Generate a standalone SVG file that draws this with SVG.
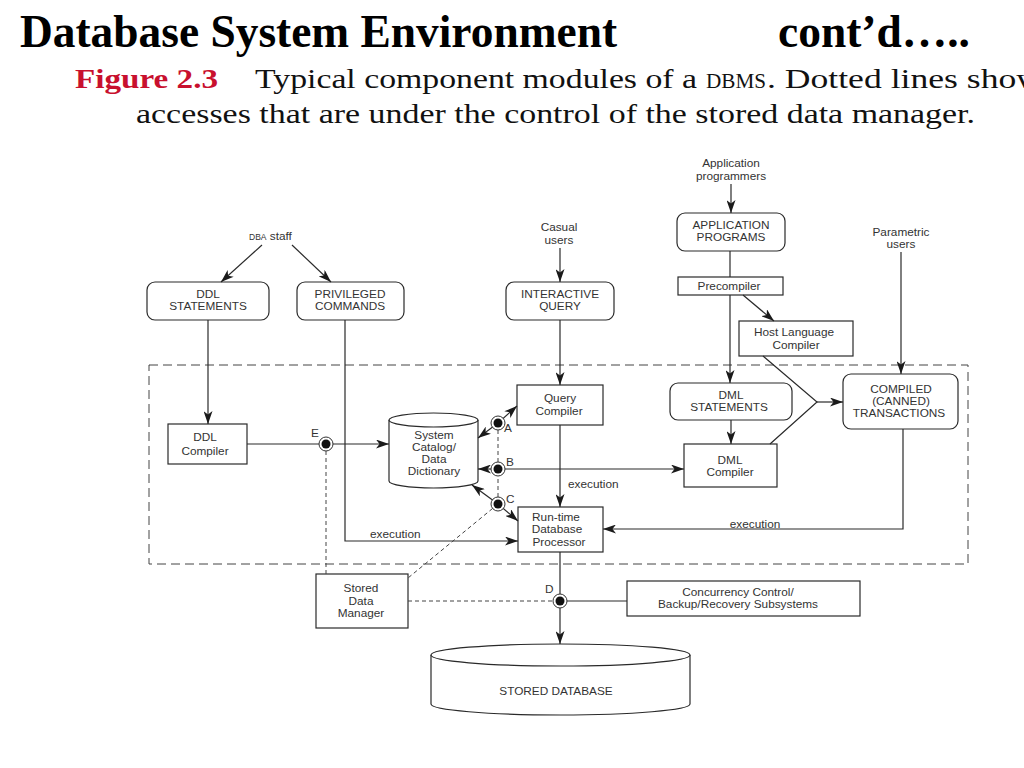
<svg xmlns="http://www.w3.org/2000/svg" width="1024" height="768" viewBox="0 0 1024 768">
<defs>
<marker id="ah" viewBox="0 0 13 9" refX="13" refY="4.5" markerWidth="13" markerHeight="9" markerUnits="userSpaceOnUse" orient="auto-start-reverse">
<path d="M0,0 L13,4.5 L0,9 L3.5,4.5 z" fill="#1a1a1a"/>
</marker>
<style>
.t{font-family:"Liberation Sans",Arial,sans-serif;font-size:11.8px;fill:#333;text-anchor:middle}
.tl{font-family:"Liberation Sans",Arial,sans-serif;font-size:11.8px;fill:#333}
.b{fill:#fff;stroke:#2a2a2a;stroke-width:1.2}
.ln{fill:none;stroke:#2a2a2a;stroke-width:1.2}
.dl{fill:none;stroke:#444;stroke-width:1;stroke-dasharray:4,3}
.arr{marker-end:url(#ah)}
.hd{font-family:"Liberation Serif","Times New Roman",serif;font-weight:bold;fill:#000}
.cap{font-family:"Liberation Serif","Times New Roman",serif;fill:#111}
</style>
</defs>
<rect width="1024" height="768" fill="#fff"/>

<!-- Heading -->
<text class="hd" x="20" y="47" font-size="46" textLength="597" lengthAdjust="spacingAndGlyphs">Database System Environment</text>
<text class="hd" x="778" y="47" font-size="46" textLength="192" lengthAdjust="spacingAndGlyphs">cont’d…..</text>
<text class="hd" x="75" y="88" font-size="28" style="fill:#c8102e" textLength="143" lengthAdjust="spacingAndGlyphs">Figure 2.3</text>
<text class="cap" x="255" y="88" font-size="28" textLength="442" lengthAdjust="spacingAndGlyphs">Typical component modules of a</text>
<text class="cap" x="706" y="88" font-size="21" textLength="60" lengthAdjust="spacingAndGlyphs">DBMS</text>
<text class="cap" x="767" y="88" font-size="28" textLength="275" lengthAdjust="spacingAndGlyphs">. Dotted lines show</text>
<text class="cap" x="136" y="123" font-size="28" textLength="839" lengthAdjust="spacingAndGlyphs">accesses that are under the control of the stored data manager.</text>

<!-- Dashed boundary -->
<rect x="149" y="365" width="819" height="199" class="dl" style="stroke-dasharray:9,5"/>

<!-- Free labels -->
<g id="dba-staff"><text class="tl" x="249" y="240"><tspan font-size="8.5">DBA</tspan><tspan> staff</tspan></text></g>
<g id="casual-users"><text class="t" x="559" y="231">Casual</text><text class="t" x="559" y="244">users</text></g>
<g id="app-programmers"><text class="t" x="731" y="167">Application</text><text class="t" x="731" y="180">programmers</text></g>
<g id="parametric-users"><text class="t" x="901" y="236">Parametric</text><text class="t" x="901" y="248">users</text></g>

<!-- Nodes -->
<g id="ddl-statements"><rect class="b" x="147" y="282" width="122" height="38" rx="8"/><text class="t" x="208" y="298">DDL</text><text class="t" x="208" y="310">STATEMENTS</text></g>
<g id="privileged-commands"><rect class="b" x="297" y="282" width="107" height="38" rx="8"/><text class="t" x="350" y="298">PRIVILEGED</text><text class="t" x="350" y="310">COMMANDS</text></g>
<g id="interactive-query"><rect class="b" x="506" y="282" width="108" height="38" rx="8"/><text class="t" x="560" y="298">INTERACTIVE</text><text class="t" x="560" y="310">QUERY</text></g>
<g id="application-programs"><rect class="b" x="677" y="213" width="108" height="38" rx="8"/><text class="t" x="731" y="229">APPLICATION</text><text class="t" x="731" y="241">PROGRAMS</text></g>
<g id="precompiler"><rect class="b" x="678" y="277" width="105" height="18"/><text class="t" x="729" y="290">Precompiler</text></g>
<g id="host-language-compiler"><rect class="b" x="739" y="321" width="114" height="35"/><text class="t" x="794" y="336">Host Language</text><text class="t" x="796" y="349">Compiler</text></g>
<g id="ddl-compiler"><rect class="b" x="168" y="424" width="79" height="40"/><text class="t" x="205" y="441">DDL</text><text class="t" x="205" y="455">Compiler</text></g>
<g id="system-catalog">
<path class="b" d="M389,420 L389,481 A44.5,7 0 0 0 478,481 L478,420"/>
<ellipse class="b" cx="433.5" cy="420" rx="44.5" ry="7"/>
<text class="t" x="434" y="439">System</text><text class="t" x="434" y="451">Catalog/</text><text class="t" x="434" y="463">Data</text><text class="t" x="434" y="475">Dictionary</text></g>
<g id="query-compiler"><rect class="b" x="517" y="385" width="86" height="40"/><text class="t" x="560" y="402">Query</text><text class="t" x="559" y="415">Compiler</text></g>
<g id="dml-statements"><rect class="b" x="670" y="383" width="122" height="37" rx="8"/><text class="t" x="731" y="399">DML</text><text class="t" x="729" y="411">STATEMENTS</text></g>
<g id="compiled-transactions"><rect class="b" x="843" y="374" width="115" height="55" rx="8"/><text class="t" x="901" y="393">COMPILED</text><text class="t" x="901" y="405">(CANNED)</text><text class="t" x="899" y="417">TRANSACTIONS</text></g>
<g id="dml-compiler"><rect class="b" x="684" y="444" width="93" height="43"/><text class="t" x="730" y="464">DML</text><text class="t" x="730" y="476">Compiler</text></g>
<g id="runtime-processor"><rect class="b" x="518" y="507" width="85" height="45"/><text class="t" x="556" y="521">Run-time</text><text class="t" x="557" y="533">Database</text><text class="t" x="559" y="546">Processor</text></g>
<g id="stored-data-manager"><rect class="b" x="316" y="574" width="92" height="54"/><text class="t" x="361" y="592">Stored</text><text class="t" x="361" y="605">Data</text><text class="t" x="361" y="617">Manager</text></g>
<g id="concurrency-control"><rect class="b" x="627" y="581" width="233" height="35"/><text class="t" x="738" y="596">Concurrency Control/</text><text class="t" x="738" y="608">Backup/Recovery Subsystems</text></g>
<g id="stored-database">
<path class="b" d="M431,655 L431,704 A129.5,11 0 0 0 690,704 L690,655"/>
<ellipse class="b" cx="560.5" cy="655" rx="129.5" ry="11"/>
<text class="t" x="556" y="695">STORED DATABASE</text></g>

<!-- Connectors -->
<g id="connectors">
<line class="ln arr" x1="262" y1="245" x2="221" y2="282"/>
<line class="ln arr" x1="292" y1="245" x2="331" y2="282"/>
<line class="ln arr" x1="560" y1="248" x2="560" y2="282"/>
<line class="ln arr" x1="731" y1="184" x2="731" y2="213"/>
<line class="ln arr" x1="901" y1="252" x2="901" y2="374"/>
<line class="ln" x1="730" y1="251" x2="730" y2="277"/>
<line class="ln arr" x1="730" y1="295" x2="730" y2="383"/>
<line class="ln arr" x1="743" y1="295" x2="774" y2="321"/>
<line class="ln arr" x1="208" y1="320" x2="208" y2="424"/>
<polyline class="ln arr" points="345,320 345,541 518,541"/>
<text class="tl" x="370" y="538">execution</text>
<line class="ln arr" x1="560" y1="320" x2="560" y2="385"/>
<line class="ln arr" x1="560" y1="425" x2="560" y2="507"/>
<text class="tl" x="568" y="488">execution</text>
<line class="ln arr" x1="731" y1="420" x2="731" y2="444"/>
<polyline class="ln" points="763,356 817,402 770,444"/>
<line class="ln arr" x1="817" y1="402" x2="843" y2="402"/>
<polyline class="ln arr" points="903,429 903,529 603,529"/>
<text class="t" x="755" y="528">execution</text>
<line class="ln" x1="247" y1="444" x2="326" y2="444"/>
<line class="ln arr" x1="326" y1="444" x2="389" y2="444"/>
<line class="dl" x1="326" y1="444" x2="326" y2="574"/>
<line class="dl" x1="498" y1="423" x2="498" y2="504"/>
<line class="ln arr" x1="498" y1="423" x2="478" y2="438"/>
<line class="ln arr" x1="498" y1="423" x2="517" y2="406"/>
<line class="ln arr" x1="498" y1="469" x2="478" y2="469"/>
<line class="ln arr" x1="498" y1="469" x2="684" y2="469"/>
<line class="ln arr" x1="498" y1="504" x2="472" y2="485"/>
<line class="ln arr" x1="498" y1="504" x2="518" y2="521"/>
<line class="dl" x1="498" y1="504" x2="408" y2="578"/>
<line class="ln" x1="560" y1="552" x2="560" y2="601"/>
<line class="ln arr" x1="560" y1="601" x2="560" y2="644"/>
<line class="dl" x1="408" y1="601" x2="560" y2="601"/>
<line class="ln" x1="560" y1="601" x2="627" y2="601"/>
</g>

<!-- Access points -->
<g id="point-e"><circle cx="326" cy="444" r="7" fill="#fff" stroke="#333" stroke-width="1"/><circle cx="326" cy="444" r="4.5" fill="#111"/><text class="tl" x="311" y="437">E</text></g>
<g id="point-a"><circle cx="498" cy="423" r="7" fill="#fff" stroke="#333" stroke-width="1"/><circle cx="498" cy="423" r="4.5" fill="#111"/><text class="tl" x="504" y="432">A</text></g>
<g id="point-b"><circle cx="498" cy="469" r="7" fill="#fff" stroke="#333" stroke-width="1"/><circle cx="498" cy="469" r="4.5" fill="#111"/><text class="tl" x="506" y="466">B</text></g>
<g id="point-c"><circle cx="498" cy="504" r="7" fill="#fff" stroke="#333" stroke-width="1"/><circle cx="498" cy="504" r="4.5" fill="#111"/><text class="tl" x="506" y="503">C</text></g>
<g id="point-d"><circle cx="560" cy="601" r="7" fill="#fff" stroke="#333" stroke-width="1"/><circle cx="560" cy="601" r="4.5" fill="#111"/><text class="tl" x="545" y="593">D</text></g>
</svg>
